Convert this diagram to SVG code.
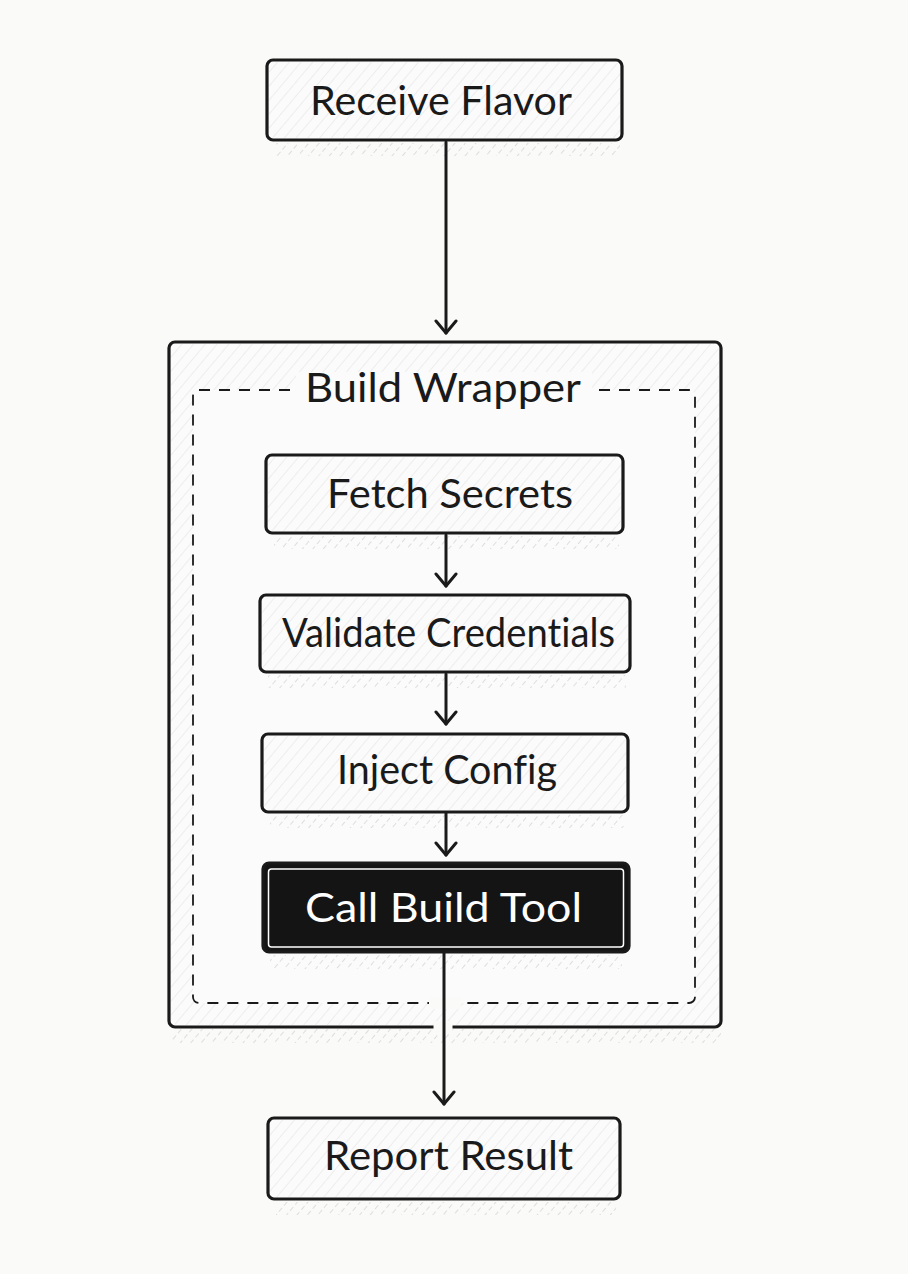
<svg xmlns="http://www.w3.org/2000/svg" width="908" height="1274" viewBox="0 0 908 1274">
  <defs>
    <pattern id="hatch" width="9" height="9" patternUnits="userSpaceOnUse" patternTransform="rotate(40)">
      <line x1="0" y1="0" x2="0" y2="9" stroke="#d4d4d4" stroke-width="1"/>
    </pattern>
    <pattern id="hatchDark" width="8" height="8" patternUnits="userSpaceOnUse" patternTransform="rotate(40)">
      <line x1="0" y1="0" x2="0" y2="5" stroke="#bdbdbd" stroke-width="1.2"/>
    </pattern>
    <marker id="chev" viewBox="0 0 24 16" refX="12" refY="14" markerWidth="24" markerHeight="16" markerUnits="userSpaceOnUse" orient="0">
      <path d="M2 2 L12 14 L22 2" fill="none" stroke="#1a1a1a" stroke-width="3" stroke-linecap="round" stroke-linejoin="round"/>
    </marker>
  </defs>
  <style>
    .box { fill: #fbfbfb; stroke: #1a1a1a; stroke-width: 3.2; }
    .hatchfill { fill: url(#hatch); opacity: 0.7; }
    .shadow { fill: url(#hatchDark); opacity: 0.8; }
    .label { font-family: Lato, "Noto Sans", "DejaVu Sans", sans-serif; font-size: 40px; fill: #1a1a1a; text-anchor: start; font-variant-ligatures: none; font-feature-settings: "liga" 0; }
    .light { fill: #ffffff; }
    .conn { stroke: #1a1a1a; stroke-width: 3; fill: none; stroke-linecap: round; }
    .gap { stroke: #fafaf9; fill: none; }
  </style>
  <rect x="0" y="0" width="908" height="1274" fill="#fafaf9"/>

  <g id="build-wrapper">
    <rect x="169" y="342" width="552" height="685" rx="6" fill="#fbfbfb" stroke="#1a1a1a" stroke-width="3.2"/>
    <rect x="171" y="344" width="548" height="681" rx="6" class="hatchfill" opacity="0.35"/>
    <rect x="171" y="1029" width="550" height="14" class="shadow" opacity="0.5"/>
    <rect x="193" y="390" width="502" height="613" rx="6" fill="#fbfbfb" stroke="#1a1a1a" stroke-width="1.8" stroke-dasharray="11 9"/>
    <rect x="296" y="372" width="296" height="36" fill="#fbfbfb"/>
    <text class="label" x="305" y="402" textLength="276" lengthAdjust="spacingAndGlyphs">Build Wrapper</text>
  </g>

  <g id="receive-flavor">
    <rect x="267" y="60" width="355" height="80" rx="6" class="box"/>
    <rect x="269" y="62" width="351" height="76" rx="5" class="hatchfill"/>
    <rect x="275" y="143" width="345" height="13" class="shadow"/>
    <text class="label" x="310" y="115" textLength="262" lengthAdjust="spacingAndGlyphs">Receive Flavor</text>
  </g>

  <g id="fetch-secrets">
    <rect x="266" y="455" width="357" height="78" rx="6" class="box"/>
    <rect x="268" y="457" width="353" height="74" rx="5" class="hatchfill"/>
    <rect x="274" y="536" width="345" height="13" class="shadow"/>
    <text class="label" x="327" y="508" textLength="246" lengthAdjust="spacingAndGlyphs">Fetch Secrets</text>
  </g>

  <g id="validate-credentials">
    <rect x="260" y="595" width="370" height="77" rx="6" class="box"/>
    <rect x="262" y="597" width="366" height="73" rx="5" class="hatchfill"/>
    <rect x="268" y="675" width="358" height="13" class="shadow"/>
    <text class="label" x="282" y="647" textLength="333" lengthAdjust="spacingAndGlyphs">Validate Credentials</text>
  </g>

  <g id="inject-config">
    <rect x="262" y="734" width="366" height="78" rx="6" class="box"/>
    <rect x="264" y="736" width="362" height="74" rx="5" class="hatchfill"/>
    <rect x="270" y="815" width="354" height="13" class="shadow"/>
    <text class="label" x="337" y="784" textLength="220" lengthAdjust="spacingAndGlyphs">Inject Config</text>
  </g>

  <g id="call-build-tool">
    <rect x="263" y="863" width="366" height="89" rx="6" fill="#141414" stroke="#1a1a1a" stroke-width="3.2"/>
    <rect x="268.5" y="869" width="355" height="78" rx="3" fill="none" stroke="#ffffff" stroke-width="1.5"/>
    <rect x="270" y="955" width="352" height="14" class="shadow"/>
    <text class="label light" x="305" y="922" textLength="277" lengthAdjust="spacingAndGlyphs">Call Build Tool</text>
  </g>

  <g id="report-result">
    <rect x="268" y="1118" width="352" height="81" rx="6" class="box"/>
    <rect x="270" y="1120" width="348" height="77" rx="5" class="hatchfill"/>
    <rect x="276" y="1202" width="340" height="13" class="shadow"/>
    <text class="label" x="324" y="1170" textLength="249" lengthAdjust="spacingAndGlyphs">Report Result</text>
  </g>

  <g id="connectors">
    <line class="conn" x1="446" y1="142" x2="446" y2="333" marker-end="url(#chev)"/>
    <line class="conn" x1="446" y1="535" x2="446" y2="586" marker-end="url(#chev)"/>
    <line class="conn" x1="446" y1="674" x2="446" y2="724" marker-end="url(#chev)"/>
    <line class="conn" x1="446" y1="813" x2="446" y2="855" marker-end="url(#chev)"/>
    <line class="gap" x1="445" y1="997" x2="445" y2="1009" stroke-width="32"/>
    <line class="gap" x1="443" y1="1021" x2="443" y2="1034" stroke-width="19"/>
    <line class="conn" x1="444" y1="953" x2="444" y2="1104" marker-end="url(#chev)"/>
  </g>
</svg>
